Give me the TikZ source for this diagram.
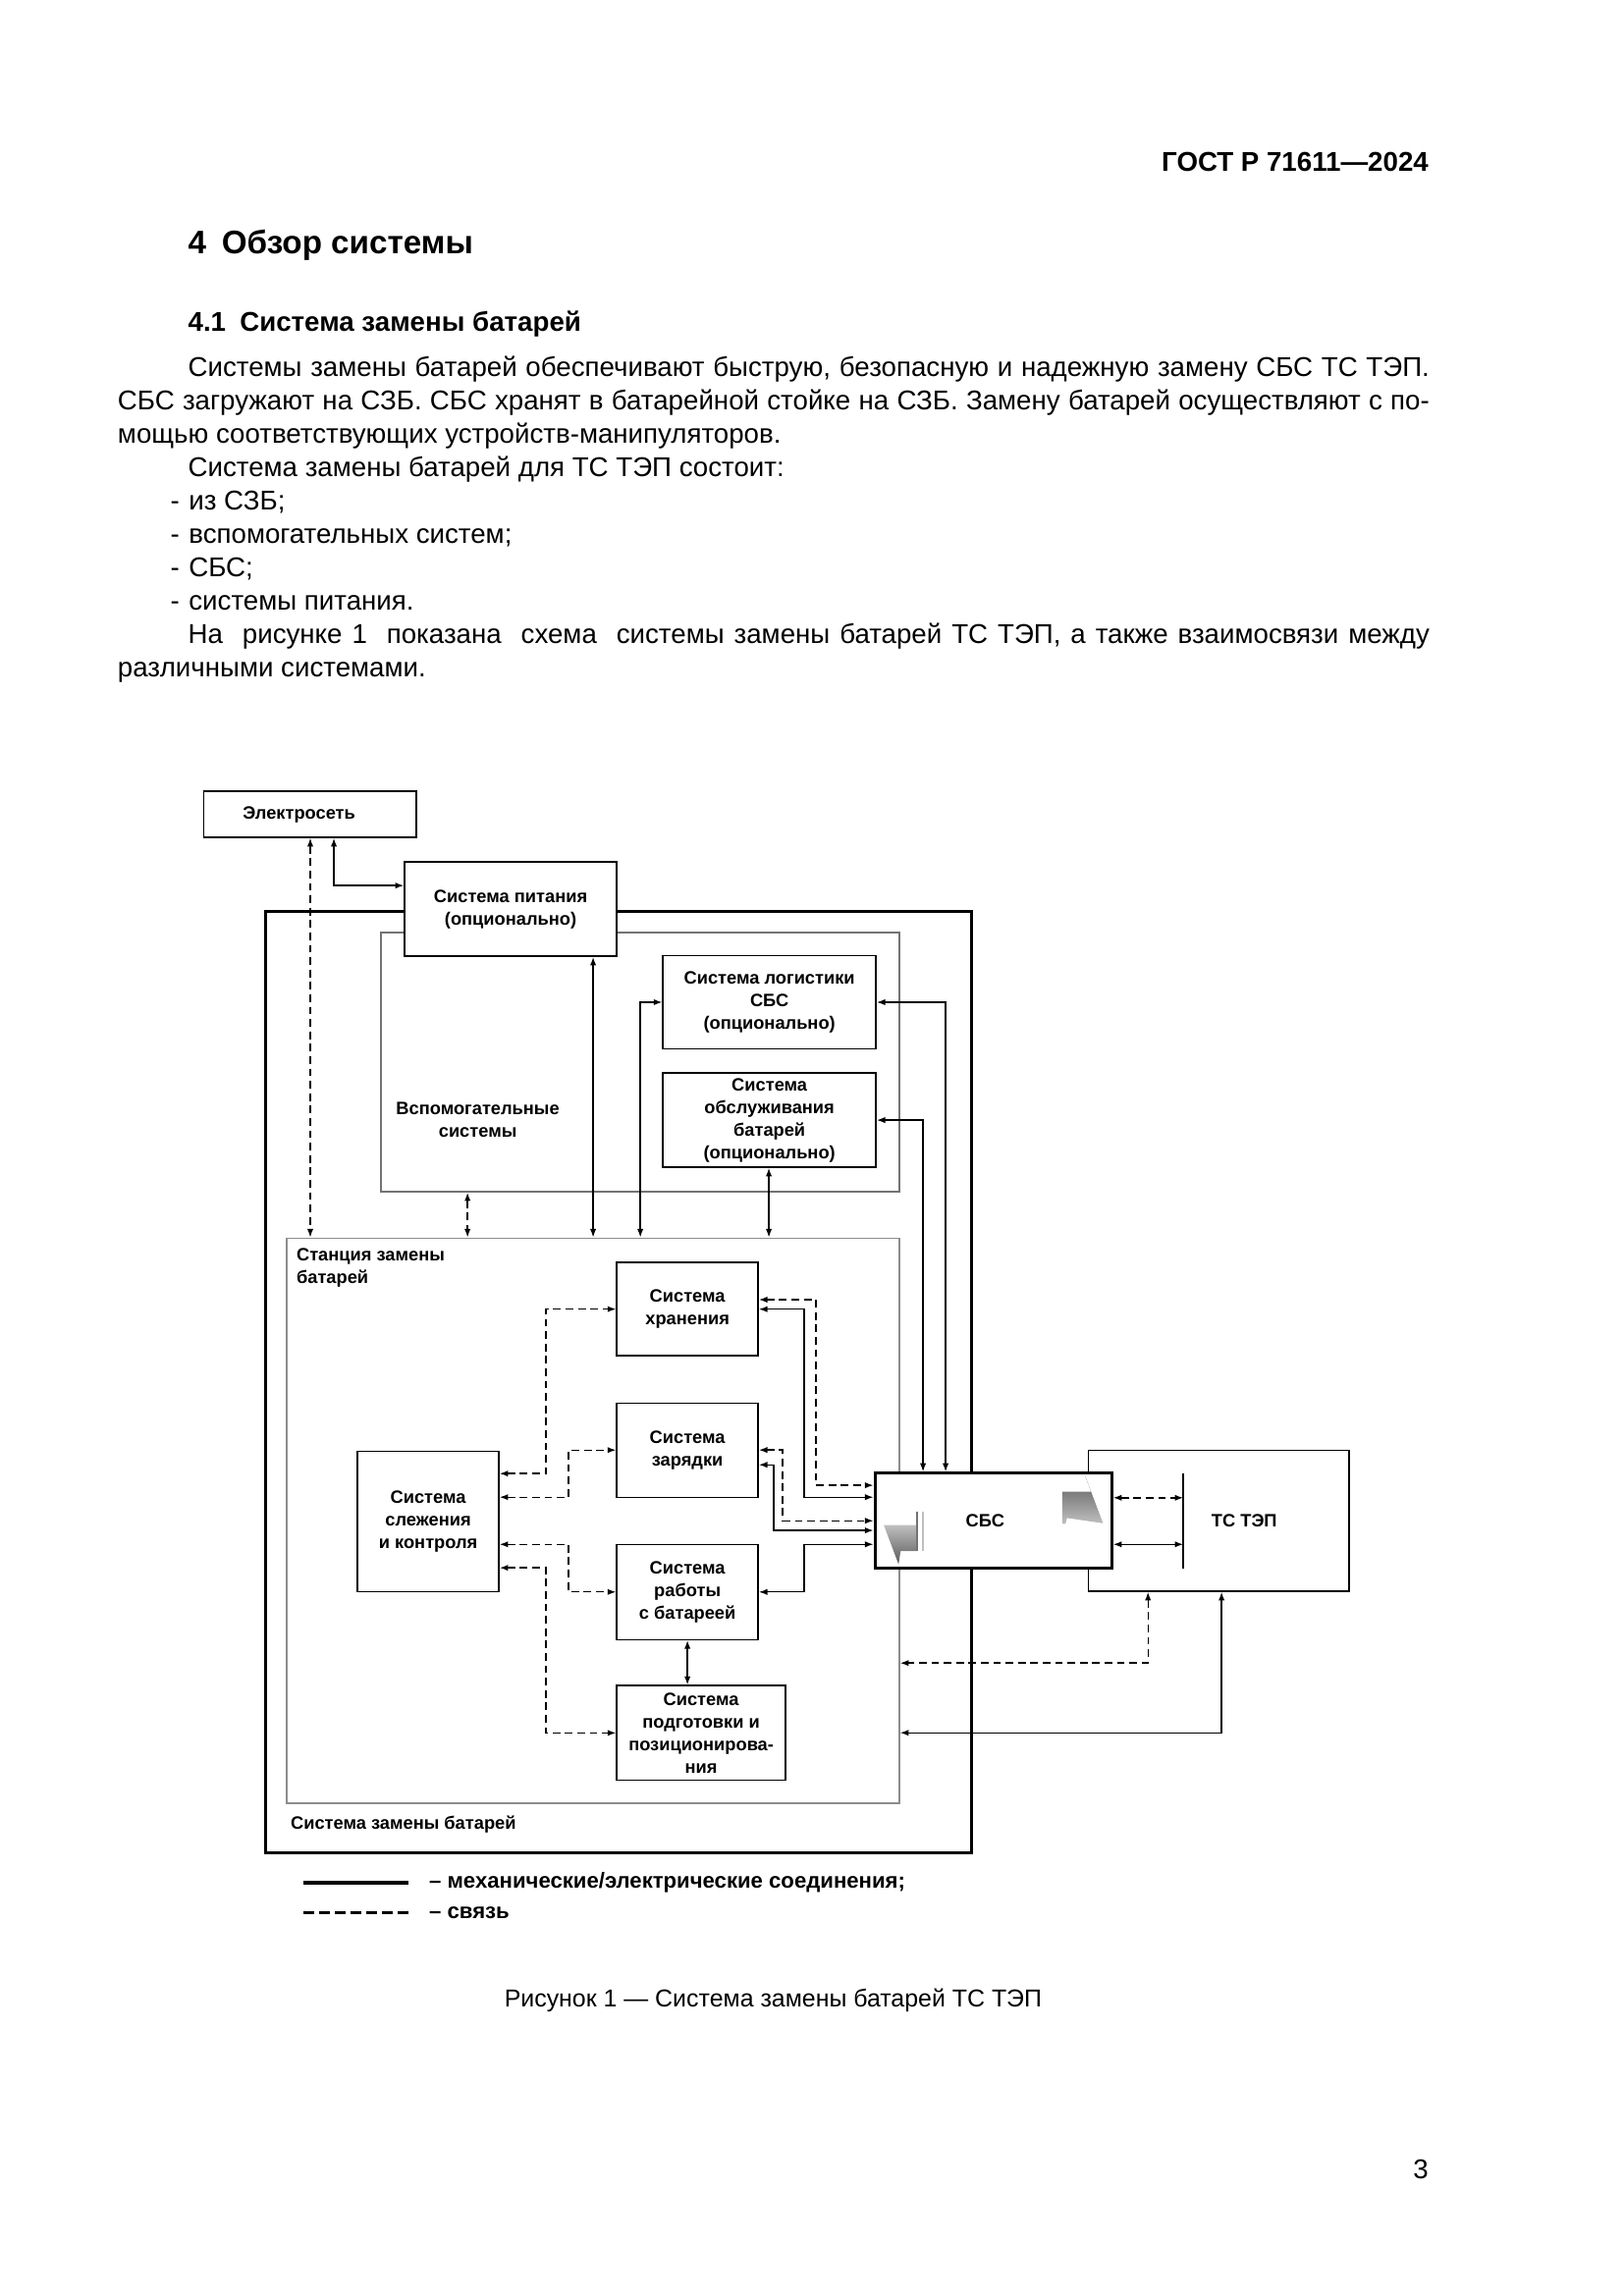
\documentclass[tikz,border=0pt]{standalone}
\usepackage{fontspec}
\setmainfont{Liberation Sans}
\usetikzlibrary{arrows.meta,calc}
\def\U{0.18953mm}
\begin{document}
\begin{tikzpicture}[x=0.18953mm,y=-0.18953mm,
  dfont/.style={font=\fontsize{6.6}{8.3}\selectfont\bfseries},
  lfont/.style={font=\fontsize{8}{9.6}\selectfont\bfseries},
  bfont/.style={font=\fontsize{10}{12}\selectfont},
  box/.style={draw, line width=0.5pt, fill=white, inner sep=0pt, align=center, dfont},
  grp/.style={draw=black!55, line width=0.5pt, inner sep=0pt},
  outerbox/.style={draw, line width=1.1pt, inner sep=0pt},
  mainbox/.style={box, line width=1.1pt},
  tip/.tip={Latex[length=1.1mm,width=0.8mm]},
  conn/.style={line width=0.5pt, tip-tip},
  dconn/.style={conn, dash pattern=on 1mm off 0.6mm},
  txt/.style={inner sep=0pt, anchor=base west, bfont}
]
\useasboundingbox (0,0) rectangle (1108,1567);
\fill[white] (0,0) rectangle (1108,1567);

% ---------- page text ----------
\node[inner sep=0pt, anchor=base east, font=\fontsize{10}{12}\selectfont\bfseries] (hdr) at (975,117) {ГОСТ Р 71611—2024};
\node[inner sep=0pt, anchor=base west, font=\fontsize{12}{14}\selectfont\bfseries] (h1) at (128,173) {4\hspace{2mm}Обзор системы};
\node[inner sep=0pt, anchor=base west, font=\fontsize{10}{12}\selectfont\bfseries] (h2) at (128,226) {4.1\hspace{1.8mm}Система замены батарей};
\node[txt] (t1) at (128,257) {\makebox[160.53mm][s]{Системы замены батарей обеспечивают быструю, безопасную и надежную замену СБС ТС ТЭП.}};
\node[txt] (t2) at (80,279.8) {\makebox[169.63mm][s]{СБС загружают на СЗБ. СБС хранят в батарейной стойке на СЗБ. Замену батарей осуществляют с по-}};
\node[txt] (t3) at (80,302.6) {мощью соответствующих устройств-манипуляторов.};
\node[txt] (t4) at (128,325.4) {Система замены батарей для ТС ТЭП состоит:};
\node[txt] (t5) at (116,348.2) {-\hspace{1.2mm}из СЗБ;};
\node[txt] (t6) at (116,371) {-\hspace{1.2mm}вспомогательных систем;};
\node[txt] (t7) at (116,393.8) {-\hspace{1.2mm}СБС;};
\node[txt] (t8) at (116,416.6) {-\hspace{1.2mm}системы питания.};
\node[txt] (t9) at (128,439.4) {\makebox[160.53mm][s]{На\ \ рисунке 1\ \ показана\ \ схема\ \ системы замены батарей ТС ТЭП, а также взаимосвязи между}};
\node[txt] (t10) at (80,462.2) {различными системами.};

% ---------- containers ----------
\node[outerbox, minimum width=481.6*\U, minimum height=642.7*\U] (szb) at (421.8,943.15) {};
\node[grp, minimum width=353.7*\U, minimum height=176.9*\U] (aux) at (436.85,724.95) {};
\node[grp, draw=black!45, minimum width=418.1*\U, minimum height=385.8*\U] (stn) at (404.65,1037.9) {};
\node[draw, line width=0.5pt, fill=white, inner sep=0pt, minimum width=177.9*\U, minimum height=96.3*\U] (ev) at (831.65,1037.85) {};

% ---------- boxes ----------
\node[box, minimum width=145*\U, minimum height=31.5*\U] (elec) at (211.5,555.75) {\hspace*{-8pt}Электросеть};
\node[box, minimum width=144.8*\U, minimum height=64.3*\U] (pit) at (348.4,620.45) {Система питания\\(опционально)};
\node[box, minimum width=145.4*\U, minimum height=64*\U] (log) at (525,684) {Система логистики\\СБС\\(опционально)};
\node[box, minimum width=145.4*\U, minimum height=64.3*\U] (obs) at (525,764.45) {Система\\обслуживания\\батарей\\(опционально)};
\node[box, minimum width=96.5*\U, minimum height=63.7*\U] (stor) at (469.05,893.45) {Система\\хранения};
\node[box, minimum width=96.5*\U, minimum height=64.3*\U] (chg) at (469.05,989.65) {Система\\зарядки};
\node[box, minimum width=96.5*\U, minimum height=65*\U] (hnd) at (469.05,1086.5) {Система\\работы\\с батареей};
\node[box, minimum width=115.2*\U, minimum height=64.6*\U] (pos) at (478.4,1182.7) {Система\\подготовки и\\позиционирова-\\ния};
\node[box, minimum width=96.5*\U, minimum height=95.8*\U] (mon) at (292.15,1038.2) {Система\\слежения\\и контроля};
\node[mainbox, minimum width=161.5*\U, minimum height=64.5*\U] (sbs) at (677.75,1037.75) {\hspace*{-6pt}СБС};

% grey marks inside the SBS box
\shade[top color=black!25, bottom color=black!65] (603,1040.8) -- (626,1040.8) -- (626,1058.6) -- (614.5,1058.6) -- (613.1,1067.6) -- cycle;
\draw[black!55, line width=0.6pt] (625.8,1031.4) -- (625.8,1058.6);
\draw[black!25, line width=0.8pt] (629.5,1031.8) -- (629.5,1058.6);
\shade[top color=black!65, bottom color=black!25] (724.7,1018) -- (744.4,1018) -- (740.4,1007.3) -- (752.6,1039.6) -- (728,1036) -- (727,1040) -- (724.7,1040) -- cycle;

% labels
\node[dfont, align=center, inner sep=0pt] (auxl) at (326,764.5) {Вспомогательные\\системы};
\node[dfont, align=left, inner sep=0pt, anchor=west] (stnl) at (202,865.5) {Станция замены\\батарей};
\node[dfont, inner sep=0pt, anchor=west] (szbl) at (198,1245) {Система замены батарей};
\node[dfont, inner sep=0pt] (evl) at (849,1038) {ТС ТЭП};
\coordinate (bart) at (807.4,1005.5);
\coordinate (barb) at (807.4,1070.5);
\draw[line width=0.9pt] (bart) -- (barb);

% ---------- connectors ----------
\draw[dconn] (elec.south -| 211.7,0) -- (stn.north -| 211.7,0);
\draw[conn] (elec.south -| 227.8,0) |- (pit.west |- 0,604.4);
\draw[conn] (pit.south -| 404.7,0) -- (stn.north -| 404.7,0);
\draw[dconn] (aux.south -| 319,0) -- (stn.north -| 319,0);
\draw[conn] (stn.north -| 436.9,0) |- (log.west);
\draw[conn] (obs.south -| 524.6,0) -- (stn.north -| 524.6,0);
\draw[conn] (log.east) -| (sbs.north -| 645.2,0);
\draw[conn] (obs.east) -| (sbs.north -| 629.8,0);

\draw[dconn] (mon.east |- 0,1005.7) -| (372.5,0 |- stor.west) -- (stor.west);
\draw[dconn] (mon.east |- 0,1021.8) -| (388,0 |- chg.west) -- (chg.west);
\draw[dconn] (mon.east |- 0,1054) -| (388,0 |- hnd.west) -- (hnd.west);
\draw[dconn] (mon.east |- 0,1070) -| (372.5,0 |- pos.west) -- (pos.west);

\draw[dconn] (stor.east |- 0,887) -| (556.8,1013.7) -- (sbs.west |- 0,1013.7);
\draw[conn] (stor.east |- 0,893.5) -| (548.8,1021.8) -- (sbs.west |- 0,1021.8);
\draw[dconn] (chg.east |- 0,989.6) -| (534,1037.9) -- (sbs.west |- 0,1037.9);
\draw[conn] (chg.east |- 0,999.7) -| (528,1044.5) -- (sbs.west |- 0,1044.5);
\draw[conn] (hnd.east) -| (548.8,1054) -- (sbs.west |- 0,1054);
\draw[conn] (hnd.south) -- (pos.north -| hnd.south);

\draw[dconn] (sbs.east |- 0,1022.2) -- (bart |- 0,1022.2);
\draw[conn] (sbs.east |- 0,1054) -- (bart |- 0,1054);
\draw[dconn] (ev.south -| 783.3,0) |- (stn.east |- 0,1135);
\draw[conn] (ev.south -| 833.5,0) |- (stn.east |- 0,1182.6);

% ---------- legend ----------
\coordinate (lsa) at (207,1285);
\coordinate (lsb) at (279,1285);
\coordinate (lda) at (207,1305.3);
\coordinate (ldb) at (279,1305.3);
\draw[line width=1.3pt] (lsa) -- (lsb);
\draw[line width=1.3pt, dash pattern=on 1.36mm off 0.68mm] (lda) -- (ldb);
\node[lfont, inner sep=0pt, anchor=west] (leg1) at (292.5,1285) {– механические/электрические соединения;};
\node[lfont, inner sep=0pt, anchor=west] (leg2) at (292.5,1305.3) {– связь};

% ---------- caption ----------
\node[inner sep=0pt, anchor=base, font=\fontsize{9}{11}\selectfont] (cap) at (527.5,1369.5) {Рисунок 1 — Система замены батарей ТС ТЭП};
\node[inner sep=0pt, anchor=base east, bfont] (pnum) at (975,1487) {3};
\end{tikzpicture}
\end{document}
